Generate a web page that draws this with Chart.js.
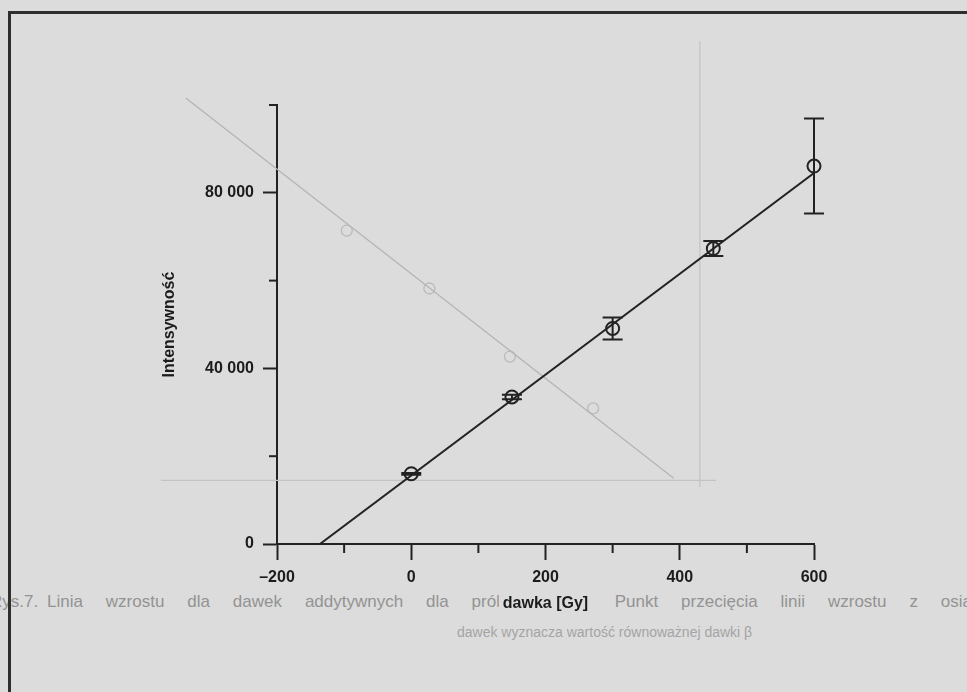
<!DOCTYPE html>
<html><head><meta charset="utf-8">
<script src="https://cdn.jsdelivr.net/npm/chart.js@4.4.1/dist/chart.umd.min.js"></script>
<style>
html,body{margin:0;padding:0;background:#dcdcdc;width:967px;height:692px;overflow:hidden}
#wrap{position:relative;width:967px;height:692px}
.cap{position:absolute;font-family:'Liberation Sans',Arial,sans-serif;color:#939393;white-space:nowrap}
#l0{left:-10px;top:592px;font-size:17px}
#l1{left:47px;top:592px;font-size:17px;width:925px;text-align:justify;text-align-last:justify}
#l2{left:457px;top:624px;font-size:14px;color:#a4a4a4}
#frame{position:absolute;left:8px;top:11px;width:1000px;height:700px;border-left:3px solid #2e2e2e;border-top:3px solid #2e2e2e}
canvas{position:absolute;left:0;top:0}
</style></head><body><div id="wrap">
<div class="cap" id="l0">Rys.7.</div>
<div class="cap" id="l1">Linia wzrostu dla dawek addytywnych dla próbki KW26. Punkt przecięcia linii wzrostu z osią</div>
<div class="cap" id="l2">dawek wyznacza wartość równoważnej dawki β</div>
<div id="frame"></div>
<canvas id="c" width="967" height="692"></canvas>
</div>
<script>
// main series: dose [Gy] vs intensity
const doses = [0, 150, 300, 450, 600];
const intensity = [16000, 33500, 49100, 67300, 86100];
const errors = [200, 500, 2500, 1700, 10800];
// fitted growth line
const fitDose = [-136, 600];
const fitIntensity = [0, 84500];
// faint show-through from the other side of the page
const ghostDose = [-336, -213, -96, 27, 147, 271];
const ghostIntensity = [101600, 86800, 71400, 58200, 42700, 30900];
const ghostLineDose = [-336, 391];
const ghostLineIntensity = [101600, 15000];
const ghostAxisVDose = [430, 430];
const ghostAxisVIntensity = [114500, 13000];
const ghostAxisHDose = [-373, 454];
const ghostAxisHIntensity = [14500, 14500];
// ticks
const xMajorTicks = [-200, 0, 200, 400, 600];
const xMinorTicks = [-100, 100, 300, 500];
const yMajorTicks = [0, 40000, 80000];
const yMinorTicks = [20000, 60000, 100000];

const ink = '#222222';
const ghost = '#b4b4b4';
const pts = (xs, ys) => xs.map((v, i) => ({x: v, y: ys[i]}));

const extras = {
  id: 'extras',
  beforeDraw(chart) {
    // paper patch behind the x-axis title (it hides the caption beneath it)
    const t = chart.scales.x;
    const {ctx} = chart;
    ctx.save();
    ctx.font = "bold 16px 'Liberation Sans', Arial, sans-serif";
    const w = ctx.measureText('dawka [Gy]').width;
    const cx = (t.left + t.right) / 2;
    const cy = t.bottom - 79 - 9.6;
    ctx.fillStyle = '#dcdcdc';
    ctx.fillRect(cx - w / 2 - 4, cy - 11, w + 8, 22);
    ctx.restore();
  },
  afterDatasetsDraw(chart) {
    const {ctx, scales: {x, y}, chartArea} = chart;
    ctx.save();
    ctx.strokeStyle = ink;
    ctx.lineWidth = 2;
    doses.forEach((d, i) => {
      const px = x.getPixelForValue(d);
      const lo = y.getPixelForValue(intensity[i] - errors[i]);
      const hi = y.getPixelForValue(intensity[i] + errors[i]);
      ctx.beginPath();
      ctx.moveTo(px, lo); ctx.lineTo(px, hi);
      ctx.moveTo(px - 10, lo); ctx.lineTo(px + 10, lo);
      ctx.moveTo(px - 10, hi); ctx.lineTo(px + 10, hi);
      ctx.stroke();
    });
    xMinorTicks.forEach(v => {
      const px = x.getPixelForValue(v);
      ctx.beginPath(); ctx.moveTo(px, chartArea.bottom); ctx.lineTo(px, chartArea.bottom + 9); ctx.stroke();
    });
    yMinorTicks.forEach(v => {
      const py = y.getPixelForValue(v);
      ctx.beginPath(); ctx.moveTo(chartArea.left, py); ctx.lineTo(chartArea.left - 8, py); ctx.stroke();
    });
    ctx.restore();
  }
};

Chart.defaults.font.family = "'Liberation Sans', Arial, sans-serif";
Chart.defaults.font.size = 16;
Chart.defaults.font.weight = 'bold';
Chart.defaults.color = '#1c1c1c';

new Chart(document.getElementById('c'), {
  type: 'scatter',
  data: {
    datasets: [
      {data: pts(doses, intensity), pointStyle: 'circle', pointRadius: 6.5, pointBorderWidth: 2,
       borderColor: ink, backgroundColor: 'rgba(0,0,0,0)', showLine: false, clip: false, order: 0},
      {data: pts(fitDose, fitIntensity), showLine: true, borderColor: ink, borderWidth: 2,
       pointRadius: 0, order: 1},
      {data: pts(ghostLineDose, ghostLineIntensity), showLine: true, borderColor: ghost, borderWidth: 1.3,
       pointRadius: 0, clip: false, order: 5},
      {data: pts(ghostDose, ghostIntensity).reverse(), showLine: false, pointRadius: 5.5, pointBorderWidth: 1.3,
       borderColor: '#bababa', backgroundColor: 'rgba(0,0,0,0)', clip: false, order: 5},
      {data: pts(ghostAxisVDose, ghostAxisVIntensity), showLine: true, borderColor: '#c4c4c4', borderWidth: 1.2,
       pointRadius: 0, clip: false, order: 6},
      {data: pts(ghostAxisHDose, ghostAxisHIntensity), showLine: true, borderColor: '#c4c4c4', borderWidth: 1.2,
       pointRadius: 0, clip: false, order: 6}
    ]
  },
  options: {
    responsive: false,
    animation: false,
    layout: {padding: {left: 160, top: 105, right: 153, bottom: 0}},
    plugins: {legend: {display: false}, tooltip: {enabled: false}},
    scales: {
      x: {
        type: 'linear', min: -200, max: 600,
        afterBuildTicks: s => { s.ticks = xMajorTicks.map(v => ({value: v})); },
        afterFit: s => { s.height = 148; },
        grid: {drawOnChartArea: false, drawTicks: true, tickLength: 16, tickWidth: 2, tickColor: ink},
        border: {display: true, color: ink, width: 2},
        ticks: {padding: 8, maxRotation: 0, autoSkip: false,
                callback: v => v < 0 ? '\u2013' + Math.abs(v) : String(v)},
        title: {display: true, text: 'dawka [Gy]', padding: {top: 0, bottom: 79}}
      },
      y: {
        type: 'linear', min: 0, max: 100000,
        afterBuildTicks: s => { s.ticks = yMajorTicks.map(v => ({value: v})); },
        afterFit: s => { s.width = 117; },
        grid: {drawOnChartArea: false, drawTicks: true, tickLength: 14, tickWidth: 2, tickColor: ink},
        border: {display: true, color: ink, width: 2},
        ticks: {padding: 9, autoSkip: false,
                callback: v => v === 0 ? '0' : (v / 1000) + ' 000'},
        title: {display: true, text: 'Intensywność', padding: {top: 0, bottom: 0}}
      }
    }
  },
  plugins: [extras]
});
</script>
</body></html>
